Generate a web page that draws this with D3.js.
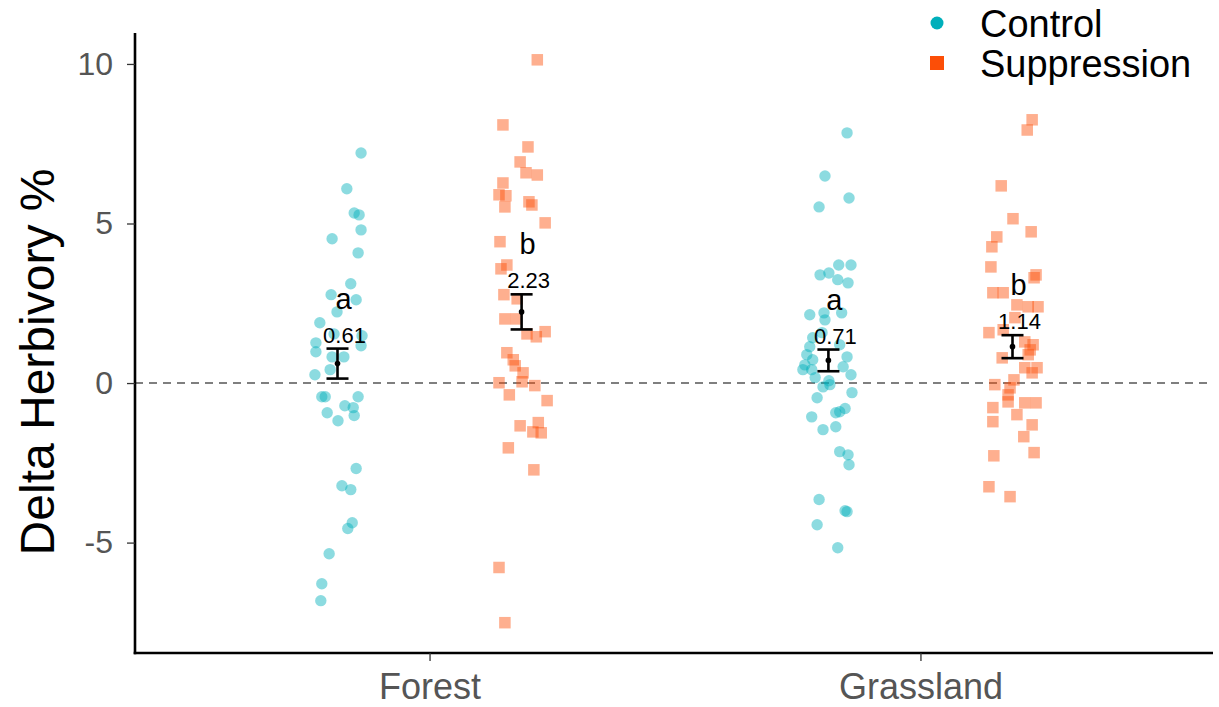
<!DOCTYPE html>
<html>
<head>
<meta charset="utf-8">
<script src="https://cdn.jsdelivr.net/npm/d3@7"></script>
<style>
  html, body { margin: 0; padding: 0; background: #fff; }
  svg { display: block; font-family: "Liberation Sans", Arial, Helvetica, sans-serif; }
</style>
</head>
<body>
<svg id="chart" width="1219" height="707"></svg>
<script>
// ---------- data ----------
const categories = ["Forest", "Grassland"];
const treatments = ["Control", "Suppression"];
const yTicks = [-5, 0, 5, 10];
const yLabel = "Delta Herbivory %";

// each point: [horizontal jitter (x data units), delta herbivory %]
const forestControl = [
  [0.048, 7.21], [0.019, 6.09], [0.034, 5.33], [0.044, 5.27], [0.048, 4.80],
  [-0.011, 4.52], [0.042, 4.08], [0.027, 3.11], [-0.013, 2.77], [0.038, 2.61],
  [-0.001, 2.23], [-0.036, 1.89], [-0.007, 1.54], [0.050, 1.48], [-0.044, 1.26],
  [0.048, 1.17], [-0.044, 0.98], [-0.011, 0.82], [0.013, 0.82], [-0.015, 0.42],
  [-0.046, 0.26], [-0.032, -0.43], [-0.025, -0.43], [0.042, -0.43], [0.015, -0.71],
  [0.032, -0.77], [-0.021, -0.93], [0.034, -1.02], [0.001, -1.18], [0.038, -2.68],
  [0.009, -3.22], [0.027, -3.34], [0.030, -4.38], [0.021, -4.56], [-0.017, -5.35],
  [-0.032, -6.29], [-0.034, -6.82]
];
const forestSuppression = [
  [0.032, 10.13], [-0.038, 8.09], [0.013, 7.40], [-0.003, 6.93], [0.009, 6.59],
  [0.032, 6.52], [-0.038, 6.27], [-0.046, 5.90], [-0.032, 5.87], [-0.034, 5.52],
  [0.015, 5.68], [0.021, 5.58], [0.048, 5.02], [-0.044, 4.43], [-0.042, 3.58],
  [-0.030, 3.70], [-0.036, 2.77], [-0.009, 2.64], [-0.034, 2.01], [-0.011, 2.01],
  [0.011, 1.54], [0.030, 1.45], [0.048, 1.61], [-0.030, 0.95], [-0.017, 0.73],
  [-0.013, 0.54], [0.003, 0.32], [0.001, 0.04], [-0.046, 0.01], [0.027, -0.08],
  [-0.025, -0.37], [0.052, -0.55], [-0.003, -1.34], [0.034, -1.24], [0.023, -1.53],
  [0.040, -1.56], [-0.027, -2.03], [0.025, -2.72], [-0.046, -5.78], [-0.034, -7.51]
];
const grasslandControl = [
  [0.038, 7.84], [-0.007, 6.49], [0.042, 5.80], [-0.019, 5.52], [0.021, 3.70],
  [0.046, 3.70], [-0.017, 3.39], [0.001, 3.45], [0.019, 3.24], [0.040, 3.14],
  [-0.038, 2.14], [-0.009, 2.20], [-0.007, 1.98], [0.027, 2.20], [-0.032, 1.42],
  [-0.013, 1.58], [-0.038, 1.14], [-0.044, 0.89], [-0.032, 0.73], [-0.048, 0.57],
  [-0.034, 0.42], [-0.052, 0.42], [0.038, 0.82], [0.030, 0.51], [0.046, 0.26],
  [-0.027, 0.17], [-0.011, -0.12], [0.003, -0.05], [-0.023, -0.46], [0.048, -0.30],
  [0.015, -0.93], [0.023, -0.90], [0.034, -0.80], [-0.034, -1.06], [-0.011, -1.46],
  [0.015, -1.37], [0.023, -2.15], [0.040, -2.25], [0.042, -2.56], [-0.019, -3.65],
  [0.034, -4.00], [0.038, -4.03], [-0.023, -4.44], [0.019, -5.16], [0.001, 0.07],
  [0.023, 1.20]
];
const grasslandSuppression = [
  [0.040, 8.25], [0.030, 7.93], [-0.023, 6.18], [0.001, 5.15], [0.038, 4.74],
  [-0.032, 4.58], [-0.042, 4.27], [-0.044, 3.64], [0.044, 3.30], [0.048, 3.39],
  [-0.040, 2.83], [-0.019, 2.83], [0.009, 2.45], [0.032, 2.39], [0.052, 2.39],
  [-0.048, 1.58], [-0.019, 1.67], [0.025, 1.29], [0.042, 1.20], [0.036, 1.04],
  [-0.021, 0.79], [0.032, 0.89], [0.025, 0.48], [0.050, 0.48], [0.040, 0.32],
  [-0.036, -0.05], [0.003, 0.10], [-0.005, -0.15], [-0.009, -0.37], [-0.009, -0.59],
  [0.025, -0.62], [0.048, -0.62], [-0.040, -0.77], [0.009, -0.99], [-0.040, -1.21],
  [0.040, -1.31], [0.023, -1.68], [0.044, -2.18], [-0.038, -2.28], [-0.048, -3.25],
  [-0.005, -3.56], [0.005, 2.05]
];

// summary per group: Forest-Control, Forest-Suppression, Grassland-Control, Grassland-Suppression
const groupCategory = ["Forest", "Forest", "Grassland", "Grassland"];
const groupTreatment = ["Control", "Suppression", "Control", "Suppression"];
const groupMeans = [0.61, 2.23, 0.71, 1.14];
const groupSE = [0.47, 0.55, 0.34, 0.36];
const groupLetters = ["a", "b", "a", "b"];
const groupPoints = [forestControl, forestSuppression, grasslandControl, grasslandSuppression];

// ---------- drawing ----------
(function () {
  const colors = { Control: "#00AFBB", Suppression: "#FC4E07" };
  const svg = d3.select("#chart");
  const pL = 135, pR = 1213, pT = 33, pB = 653;

  const xCat = d3.scaleOrdinal().domain(categories).range([1, 2]);
  const x = d3.scaleLinear().domain([0.4, 2.6]).range([pL, pR + 2]);
  const dodge = d3.scaleOrdinal().domain(treatments).range([-0.1875, 0.1875]);
  const y = d3.scaleLinear().domain([-8.46, 10.97]).range([pB, pT]);

  const groupX = i => xCat(groupCategory[i]) + dodge(groupTreatment[i]);

  // zero reference line
  svg.append("line")
    .attr("x1", pL).attr("x2", pR)
    .attr("y1", y(0)).attr("y2", y(0))
    .attr("stroke", "#555").attr("stroke-width", 1.6)
    .attr("stroke-dasharray", "8,6");

  // points
  const pts = svg.append("g");
  groupPoints.forEach((arr, i) => {
    const t = groupTreatment[i];
    const cx = groupX(i);
    if (t === "Control") {
      pts.selectAll(null).data(arr).enter().append("circle")
        .attr("cx", d => x(cx + d[0]))
        .attr("cy", d => y(d[1]))
        .attr("r", 5.7)
        .attr("fill", colors.Control)
        .attr("fill-opacity", 0.45);
    } else {
      const s = 11.5;
      pts.selectAll(null).data(arr).enter().append("rect")
        .attr("x", d => x(cx + d[0]) - s / 2)
        .attr("y", d => y(d[1]) - s / 2)
        .attr("width", s).attr("height", s)
        .attr("fill", colors.Suppression)
        .attr("fill-opacity", 0.45);
    }
  });

  // error bars, means and labels
  const eb = svg.append("g");
  groupMeans.forEach((m, i) => {
    const cx = x(groupX(i));
    const hi = y(m + groupSE[i]), lo = y(m - groupSE[i]);
    const cap = 11;
    eb.append("line").attr("x1", cx).attr("x2", cx).attr("y1", hi).attr("y2", lo)
      .attr("stroke", "#000").attr("stroke-width", 2.6);
    eb.append("line").attr("x1", cx - cap).attr("x2", cx + cap).attr("y1", hi).attr("y2", hi)
      .attr("stroke", "#000").attr("stroke-width", 2.6);
    eb.append("line").attr("x1", cx - cap).attr("x2", cx + cap).attr("y1", lo).attr("y2", lo)
      .attr("stroke", "#000").attr("stroke-width", 2.6);
    eb.append("circle").attr("cx", cx).attr("cy", y(m)).attr("r", 2.8).attr("fill", "#000");
    eb.append("text").attr("x", cx + 7).attr("y", hi - 6)
      .attr("text-anchor", "middle").attr("font-size", 22).attr("fill", "#000")
      .text(m.toFixed(2));
    eb.append("text").attr("x", cx + 6).attr("y", hi - 40)
      .attr("text-anchor", "middle").attr("font-size", 29).attr("fill", "#000")
      .text(groupLetters[i]);
  });

  // axes
  const yAxis = d3.axisLeft(y).tickValues(yTicks).tickFormat(d => String(d)).tickSize(8).tickPadding(14);
  const gy = svg.append("g").attr("transform", `translate(${pL},0)`).call(yAxis);
  gy.select(".domain").attr("d", `M0,${pT}V${pB + 1.3}`).attr("stroke", "#000").attr("stroke-width", 2.6);
  gy.selectAll(".tick line").attr("stroke", "#333").attr("stroke-width", 1.3);
  gy.selectAll(".tick text").attr("font-size", 32).attr("fill", "#555")
    .attr("font-family", "Liberation Sans, Arial, sans-serif");

  const xAxis = d3.axisBottom(x).tickValues(categories.map(c => xCat(c)))
    .tickFormat((d, i) => categories[i]).tickSize(8).tickPadding(12);
  const gx = svg.append("g").attr("transform", `translate(0,${pB})`).call(xAxis);
  gx.select(".domain").attr("d", `M${pL - 1.3},0H${pR}`).attr("stroke", "#000").attr("stroke-width", 2.6);
  gx.selectAll(".tick line").attr("stroke", "#333").attr("stroke-width", 1.3);
  gx.selectAll(".tick text").attr("font-size", 36).attr("fill", "#555")
    .attr("font-family", "Liberation Sans, Arial, sans-serif");

  // y title
  svg.append("text")
    .attr("transform", `translate(54, ${(pT + pB) / 2 + 19}) rotate(-90)`)
    .attr("text-anchor", "middle")
    .attr("font-size", 48).attr("fill", "#000")
    .text(yLabel);

  // legend
  const lg = svg.append("g");
  lg.append("circle").attr("cx", 937).attr("cy", 23).attr("r", 6.5).attr("fill", colors.Control);
  lg.append("rect").attr("x", 930).attr("y", 56).attr("width", 14).attr("height", 14).attr("fill", colors.Suppression);
  lg.append("text").attr("x", 980).attr("y", 37).attr("font-size", 38).attr("fill", "#000").text(treatments[0]);
  lg.append("text").attr("x", 980).attr("y", 77).attr("font-size", 38).attr("fill", "#000").text(treatments[1]);
})();
</script>
</body>
</html>
